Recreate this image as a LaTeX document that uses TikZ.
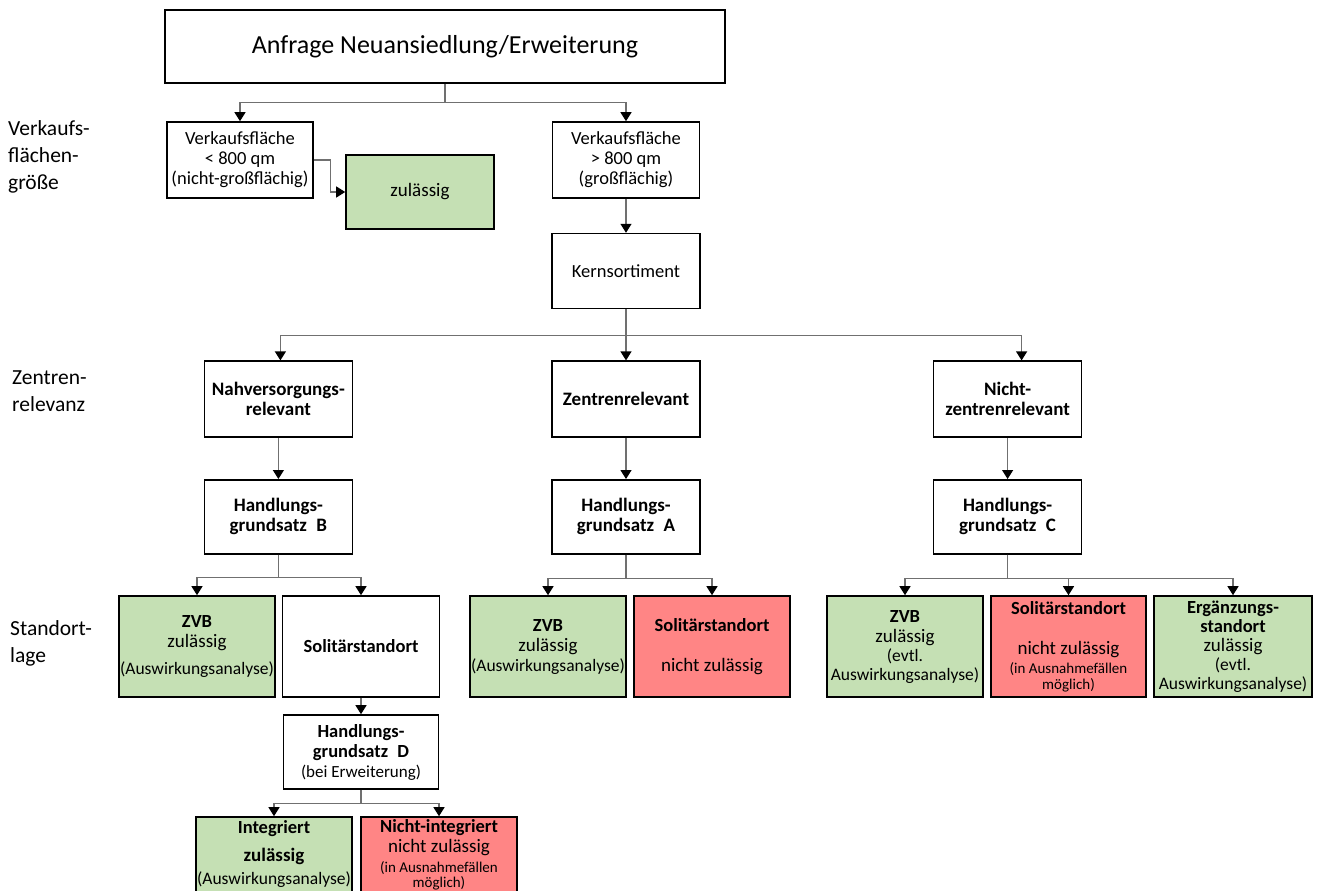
\documentclass[tikz,border=0pt]{standalone}
\usepackage{fontspec}
\setmainfont{Carlito}
\usepackage{xcolor}
\usetikzlibrary{arrows.meta, positioning}
\definecolor{okgreen}{HTML}{C5E0B4}
\definecolor{nored}{HTML}{FF8585}
\definecolor{linegray}{HTML}{707070}
\newcommand{\fsize}[2]{\fontsize{#1}{#2}\selectfont}

\begin{document}
\begin{tikzpicture}[
  x=1pt, y=-1pt,
  box/.style={rectangle, draw=black, line width=1.6pt, fill=white, minimum width=148pt, minimum height=75pt, inner sep=0pt, align=center, font=\fsize{18.5}{20}},
  head/.style={box, minimum height=76pt, font=\fsize{19}{20}\bfseries},
  okbox/.style={box, fill=okgreen, minimum width=156pt, minimum height=101pt},
  nobox/.style={box, fill=nored, minimum width=156pt, minimum height=101pt},
  side/.style={anchor=west, align=left, inner sep=0pt, font=\fsize{21.5}{27}},
  arrow/.style={draw=linegray, line width=1.2pt, -{Triangle[length=9pt,width=11pt,color=black]}}
]
\useasboundingbox (0,0) rectangle (1317,891);

% side labels
\node[side] (lblflaeche) at (8,157) {Verkaufs-\\flächen-\\größe};
\node[side] (lblrelevanz) at (12,391.5) {Zentren-\\relevanz};
\node[side] (lbllage) at (10,643.5) {Standort-\\lage};

% top
\node[box, minimum width=560pt, minimum height=73pt, font=\fsize{26}{30}] (anfrage) at (445,46.5) {Anfrage Neuansiedlung/Erweiterung};
\node[box, minimum width=146pt, minimum height=76pt] (klein) at (240,160) {Verkaufsfläche\\< 800 qm\\(nicht-großflächig)};
\node[box, fill=okgreen, minimum height=74pt, font=\fsize{19}{22}] (zul) at (420,192) {zulässig};
\node[box, minimum width=147pt, minimum height=76pt] (gross) at (626,160) {Verkaufsfläche\\> 800 qm\\(großflächig)};
\node[box, below=34pt of gross] (kern) {Kernsortiment};

% Zentrenrelevanz
\node[head, below=51pt of kern] (zentr) {Zentrenrelevant};
\node[head, left=198pt of zentr] (nahv) {Nahversorgungs-\\relevant};
\node[head, right=232pt of zentr] (nzentr) {Nicht-\\zentrenrelevant};

% Handlungsgrundsaetze
\node[head, minimum height=74pt, below=41pt of nahv] (hgB) {Handlungs-\\grundsatz\enspace B};
\node[head, minimum height=74pt, below=41pt of zentr] (hgA) {Handlungs-\\grundsatz\enspace A};
\node[head, minimum height=74pt, below=41pt of nzentr] (hgC) {Handlungs-\\grundsatz\enspace C};

% Standortlage B
\node[okbox] (zvbB) at (197,646.5) {\textbf{ZVB}\\{\fsize{19}{20}zulässig}\\[7pt]{\fsize{17.5}{20}(Auswirkungsanalyse)}};
\node[box, minimum width=157pt, minimum height=101pt] (solB) at (361,646.5) {\textbf{Solitärstandort}};
\node[box, minimum width=155pt, minimum height=74pt] (hgD) at (361,752) {\textbf{Handlungs-}\\\textbf{grundsatz\enspace D}\\{\fsize{17}{20}(bei Erweiterung)}};
\node[box, fill=okgreen, minimum width=156pt, minimum height=75pt] (integ) at (274,854.5) {\textbf{Integriert}\\[8pt]{\fsize{19}{20}\bfseries zulässig}\\[3pt]{\fsize{17.5}{20}(Auswirkungsanalyse)}};
\node[box, fill=nored, minimum width=156pt, minimum height=75pt] (ninteg) at (439,854.5) {\textbf{Nicht-integriert}\\{\fsize{19}{20}nicht zulässig}\\{\fsize{15}{16}(in Ausnahmefällen}\\[-5pt]{\fsize{15}{16}möglich)}};

% Standortlage A
\node[okbox] (zvbA) at (548,646.5) {\textbf{ZVB}\\{\fsize{19}{20}zulässig}\\{\fsize{17.5}{20}(Auswirkungsanalyse)}};
\node[nobox] (solA) at (712,646.5) {\textbf{Solitärstandort}\\[20pt]{\fsize{19}{20}nicht zulässig}};

% Standortlage C
\node[okbox] (zvbC) at (905,646.5) {\textbf{ZVB}\\{\fsize{19}{20}zulässig}\\[-1pt]{\fsize{17.5}{20}(evtl.}\\[-1pt]{\fsize{17.5}{20}Auswirkungsanalyse)}};
\node[nobox, minimum width=155pt] (solC) at (1068.5,646.5) {\textbf{Solitärstandort}\\[20pt]{\fsize{19}{20}nicht zulässig}\\[-1pt]{\fsize{15}{16}(in Ausnahmefällen}\\[-4pt]{\fsize{15}{16}möglich)}};
\node[okbox, minimum width=158pt] (ergC) at (1233,646.5) {\textbf{Ergänzungs-}\\[-1pt]\textbf{standort}\\[-1pt]{\fsize{19}{20}zulässig}\\[-1pt]{\fsize{17.5}{20}(evtl.}\\[-1pt]{\fsize{17.5}{20}Auswirkungsanalyse)}};

% connectors
\draw[arrow] (anfrage.south) -- ++(0,19) -| (klein.north);
\draw[arrow] (anfrage.south) -- ++(0,19) -| (gross.north);
\draw[arrow] (klein.east) -- ++(17,0) |- (zul.west);
\draw[arrow] (gross) -- (kern);
\draw[arrow] (kern.south) -- ++(0,26) -| ([xshift=2pt]nahv.north);
\draw[arrow] (kern.south) -- ++(0,26) -| (zentr.north);
\draw[arrow] (kern.south) -- ++(0,26) -| ([xshift=14pt]nzentr.north);
\draw[arrow] (nahv) -- (hgB);
\draw[arrow] (zentr) -- (hgA);
\draw[arrow] (nzentr) -- (hgC);
\draw[arrow] (hgB.south) -- ++(0,23) -| (zvbB.north);
\draw[arrow] (hgB.south) -- ++(0,23) -| (solB.north);
\draw[arrow] (solB) -- (hgD);
\draw[arrow] (hgD.south) -- ++(0,14) -| (integ.north);
\draw[arrow] (hgD.south) -- ++(0,14) -| (ninteg.north);
\draw[arrow] (hgA.south) -- ++(0,24) -| (zvbA.north);
\draw[arrow] (hgA.south) -- ++(0,24) -| (solA.north);
\draw[arrow] (hgC.south) -- ++(0,24) -| (zvbC.north);
\draw[arrow] (hgC.south) -- ++(0,24) -| (solC.north);
\draw[arrow] (hgC.south) -- ++(0,24) -| (ergC.north);
\end{tikzpicture}
\end{document}
